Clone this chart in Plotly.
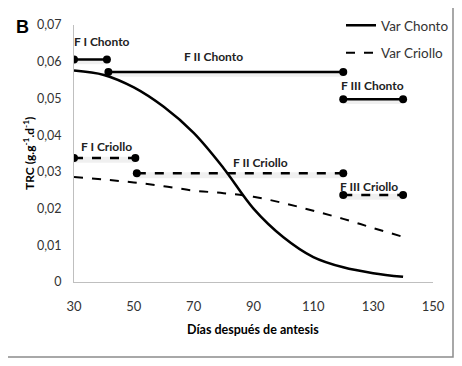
import plotly.graph_objects as go

# ---- data ----
days = [30, 40, 50, 60, 70, 80, 90, 100, 110, 120, 130, 140]
trc_chonto = [0.0576, 0.0564, 0.0530, 0.0477, 0.0406, 0.0310, 0.0200, 0.0122, 0.0068, 0.0040, 0.0024, 0.0014]
trc_criollo = [0.0286, 0.0279, 0.0271, 0.0261, 0.0249, 0.0242, 0.0232, 0.0215, 0.0194, 0.0172, 0.0147, 0.0123]

phase_names = ["F I Chonto", "F II Chonto", "F III Chonto", "F I Criollo", "F II Criollo", "F III Criollo"]
phase_start = [30, 41.5, 120, 30, 51, 120]
phase_end = [41, 120, 140, 50.5, 120, 140]
phase_value = [0.0606, 0.0572, 0.0498, 0.0338, 0.0296, 0.0237]
phase_dash = ["solid", "solid", "solid", "dash", "dash", "dash"]
label_x = [39.4, 76.5, 129.7, 41, 92.5, 128.7]
label_y = [0.0654, 0.0615, 0.0536, 0.0369, 0.0325, 0.0260]

x_ticks = [30, 50, 70, 90, 110, 130, 150]
y_ticks = [0, 0.01, 0.02, 0.03, 0.04, 0.05, 0.06, 0.07]
y_ticktext = ["0", "0,01", "0,02", "0,03", "0,04", "0,05", "0,06", "0,07"]

FONT = "Lato, Roboto, Arial"

fig = go.Figure()

# main curves
fig.add_trace(go.Scatter(x=days, y=trc_chonto, mode="lines", name="Var Chonto",
                         line=dict(color="black", width=2.5, shape="spline"),
                         legendgroup="a"))
fig.add_trace(go.Scatter(x=days, y=trc_criollo, mode="lines", name="Var Criollo",
                         line=dict(color="black", width=2, dash="dash", shape="spline"),
                         legendgroup="b"))

# phase segments (soft shadow then line)
for s, e, v, d in zip(phase_start, phase_end, phase_value, phase_dash):
    fig.add_trace(go.Scatter(x=[s, e], y=[v - 0.0005, v - 0.0005], mode="lines",
                             line=dict(color="rgba(0,0,0,0.06)", width=6),
                             showlegend=False, hoverinfo="skip"))
    fig.add_trace(go.Scatter(x=[s, e], y=[v, v], mode="lines+markers",
                             line=dict(color="black", width=2.5, dash=d),
                             marker=dict(color="black", size=8),
                             showlegend=False))

for name, lx, ly in zip(phase_names, label_x, label_y):
    fig.add_annotation(x=lx, y=ly, text="<b>%s</b>" % name, showarrow=False,
                       xanchor="center", yanchor="middle",
                       font=dict(family=FONT, size=12, color="#222"))

# panel letter
fig.add_annotation(xref="paper", yref="paper", x=(22 - 74) / 359, y=(282 - 27) / 257,
                   xanchor="center", yanchor="middle",
                   text="<b>B</b>", showarrow=False, font=dict(family="Arial", size=18, color="black"))
# axis titles
fig.add_annotation(xref="paper", yref="paper", x=(29 - 74) / 359, y=(282 - 154) / 257,
                   xanchor="center", yanchor="middle",
                   text="<b>TRC (g.g<sup>-1</sup>.d<sup>-1</sup>)</b>", textangle=-90, showarrow=False,
                   font=dict(family=FONT, size=12, color="black"))
fig.add_annotation(xref="paper", yref="paper", x=(253 - 74) / 359, y=(282 - 329) / 257,
                   xanchor="center", yanchor="middle",
                   text="<b>Días después de antesis</b>", showarrow=False,
                   font=dict(family=FONT, size=12.5, color="black"))

# outer frame
fig.add_shape(type="rect", xref="paper", yref="paper",
              x0=(6 - 74) / 359, x1=(453 - 74) / 359,
              y0=(282 - 357) / 257, y1=(282 - 5) / 257,
              line=dict(color="#8c8c8c", width=1.5))

# page body adds an 8px offset, so the figure is 8px smaller and margins shifted
fig.update_layout(
    width=454, height=358,
    margin=dict(l=66, r=29, t=17, b=84, autoexpand=False),
    paper_bgcolor="white", plot_bgcolor="white",
    font=dict(family=FONT, size=13, color="#333"),
    showlegend=True,
    legend=dict(x=(341 - 74) / 359, y=(282 - 10) / 257, xanchor="left", yanchor="top",
                font=dict(family=FONT, size=13.5, color="#333"),
                bgcolor="rgba(0,0,0,0)", tracegroupgap=7),
    xaxis=dict(range=[30, 150], tickvals=x_ticks, showgrid=False, zeroline=False,
               showline=True, linecolor="#bfbfbf", linewidth=1, ticks="",
               tickfont=dict(family=FONT, size=13, color="#333"), ticklabelstandoff=12),
    yaxis=dict(range=[0, 0.07], tickvals=y_ticks, ticktext=y_ticktext, showgrid=False,
               zeroline=False, showline=True, linecolor="#bfbfbf", linewidth=1, ticks="",
               tickfont=dict(family=FONT, size=12.5, color="#333"), ticklabelstandoff=9),
)

fig.write_html("out.html")
